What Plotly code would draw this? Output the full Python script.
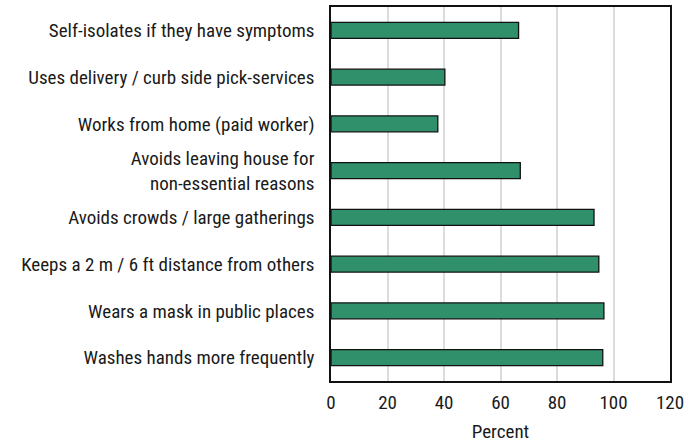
import plotly.graph_objects as go

categories = [
    "Self-isolates if they have symptoms",
    "Uses delivery / curb side pick-services",
    "Works from home (paid worker)",
    "Avoids leaving house for<br>non-essential reasons",
    "Avoids crowds / large gatherings",
    "Keeps a 2 m / 6 ft distance from others",
    "Wears a mask in public places",
    "Washes hands more frequently",
]
values = [66.4, 40.3, 37.8, 67.0, 93.1, 94.8, 96.6, 96.2]
x_ticks = [0, 20, 40, 60, 80, 100, 120]

FONT = "Liberation Sans Narrow, Roboto Condensed, Arial Narrow, Roboto, sans-serif"

fig = go.Figure(go.Bar(
    y=categories, x=values, orientation="h",
    marker=dict(color="#2f906b", line=dict(color="#111111", width=1.3)),
    width=0.34,
))
fig.update_layout(
    width=695, height=443,
    margin=dict(l=331, r=25, t=7, b=62),
    plot_bgcolor="white", paper_bgcolor="white",
    font=dict(family=FONT, size=19, color="#1a1a1a"),
    showlegend=False,
)
fig.update_xaxes(
    range=[0, 120], tickvals=x_ticks, showgrid=True, gridcolor="#dcdcdc", gridwidth=1.5,
    showline=True, linecolor="#111111", linewidth=1.5, mirror=True, zeroline=False,
    ticks="outside", ticklen=3, tickcolor="rgba(0,0,0,0)", tickfont=dict(size=19),
    title=dict(text="Percent", font=dict(size=19), standoff=17),
    automargin=False,
)
fig.update_yaxes(
    autorange="reversed", showgrid=False, showline=True, linecolor="#111111",
    linewidth=1.5, mirror=True, ticks="outside", ticklen=11, tickcolor="rgba(0,0,0,0)",
    tickfont=dict(size=19), automargin=False,
)
fig.write_html("out.html", config={"displayModeBar": False},
               post_script="document.body.style.margin='0';")
